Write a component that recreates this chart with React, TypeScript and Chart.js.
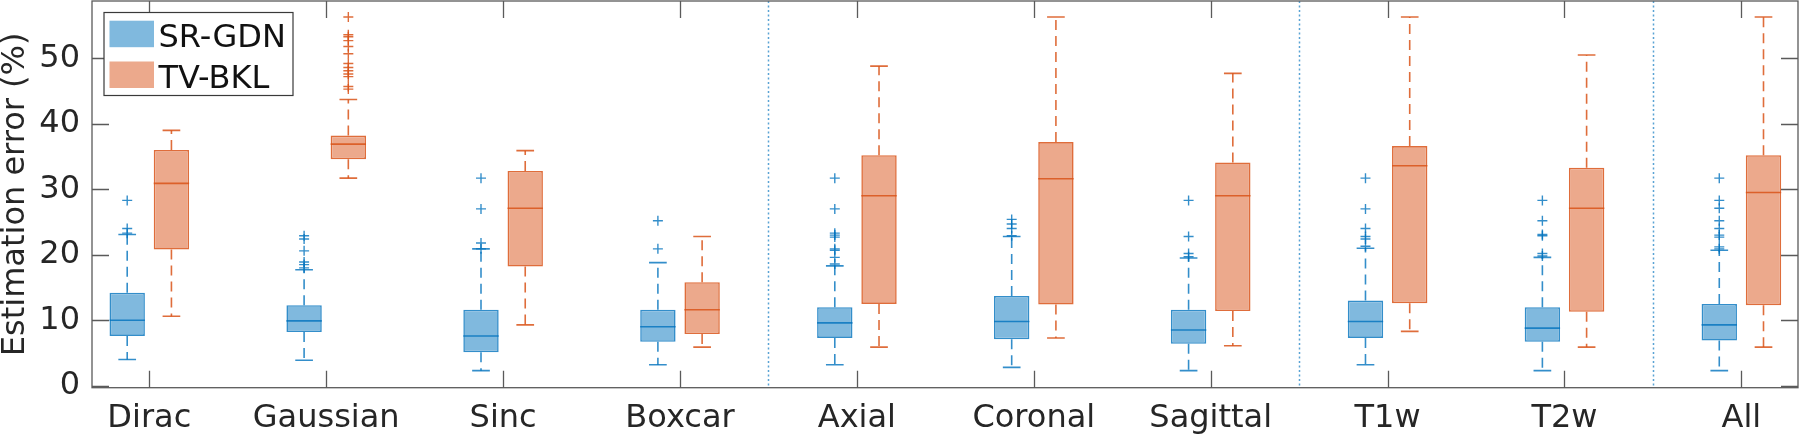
import React, { useEffect, useRef } from "react";
import { Chart, registerables } from "chart.js";

Chart.register(...registerables);

const categories = ["Dirac", "Gaussian", "Sinc", "Boxcar", "Axial", "Coronal", "Sagittal", "T1w", "T2w", "All"];
const seriesNames = ["SR-GDN", "TV-BKL"];
const yTicks = [0, 10, 20, 30, 40, 50];
const groupSeparators = [4.5, 7.5, 9.5];
const yTitle = "Estimation error (%)";

// SR-GDN
const srQ1 = [7.6, 8.2, 5.1, 6.7, 7.3, 7.1, 6.4, 7.3, 6.7, 6.9];
const srMedian = [10.0, 9.9, 7.6, 9.0, 9.6, 9.8, 8.5, 9.8, 8.8, 9.3];
const srQ3 = [14.2, 12.3, 11.6, 11.6, 12.0, 13.7, 11.6, 13.0, 12.0, 12.5];
const srLow = [4.0, 3.9, 2.3, 3.2, 3.2, 2.8, 2.3, 3.2, 2.3, 2.3];
const srHigh = [23.1, 17.7, 20.9, 18.8, 18.3, 22.8, 19.5, 21.0, 19.6, 20.7];
const srOutliers = [
  [23.3, 24.0, 28.3],
  [18.0, 18.5, 18.9, 20.6, 22.4, 22.9],
  [20.9, 21.8, 27.0, 31.7],
  [20.9, 25.2],
  [18.6, 19.6, 20.7, 20.9, 22.7, 23.0, 23.3, 27.0, 31.7],
  [22.9, 24.0, 24.7, 25.4],
  [19.7, 20.2, 22.8, 28.3],
  [21.3, 22.4, 22.8, 24.0, 27.0, 31.7],
  [19.8, 20.2, 22.9, 23.1, 25.2, 28.3],
  [20.9, 21.2, 22.7, 23.0, 24.0, 25.2, 27.1, 28.3, 31.7],
];

// TV-BKL
const tvQ1 = [20.8, 34.6, 18.2, 7.9, 12.5, 12.4, 11.4, 12.6, 11.3, 12.3];
const tvMedian = [30.9, 36.9, 27.1, 11.6, 29.0, 31.6, 29.0, 33.6, 27.1, 29.5];
const tvQ3 = [36.0, 38.2, 32.8, 15.8, 35.2, 37.2, 34.1, 36.6, 33.3, 35.2];
const tvLow = [10.6, 31.7, 9.3, 5.9, 5.9, 7.3, 6.1, 8.3, 5.9, 5.9];
const tvHigh = [39.0, 43.7, 35.9, 22.8, 48.8, 56.3, 47.7, 56.3, 50.5, 56.3];
const tvOutliers = [
  [],
  [45.3, 45.7, 47.2, 47.6, 48.1, 48.6, 49.2, 50.7, 51.8, 52.7, 53.3, 53.6, 56.3],
  [],
  [],
  [],
  [],
  [],
  [],
  [],
  [],
];

const FONT = '"DejaVu Sans", sans-serif';
const TEXT = "#262626";
const AXIS = "#5a5a5a";
const BLUE_FILL = "rgb(128,185,222)";
const BLUE_EDGE = "rgba(0,114,189,0.8)";
const ORANGE_FILL = "rgb(236,169,140)";
const ORANGE_EDGE = "rgba(217,83,25,0.85)";

const stats = [
  { q1: srQ1, med: srMedian, q3: srQ3, lo: srLow, hi: srHigh, out: srOutliers, edge: BLUE_EDGE, fill: BLUE_FILL },
  { q1: tvQ1, med: tvMedian, q3: tvQ3, lo: tvLow, hi: tvHigh, out: tvOutliers, edge: ORANGE_EDGE, fill: ORANGE_FILL },
];

const zeroPad = (s: any) => {
  s.paddingLeft = 0;
  s.paddingRight = 0;
  s.paddingTop = 0;
  s.paddingBottom = 0;
};

const boxPlugin = {
  id: "boxDetails",
  beforeDatasetsDraw(chart: any) {
    const { ctx, chartArea, scales } = chart;
    ctx.save();
    ctx.strokeStyle = "rgba(0,114,189,0.65)";
    ctx.lineWidth = 1.5;
    ctx.setLineDash([2, 2.5]);
    groupSeparators.forEach((v) => {
      const x = Math.round(scales.x.getPixelForValue(v)) + 0.5;
      ctx.beginPath();
      ctx.moveTo(x, chartArea.top);
      ctx.lineTo(x, chartArea.bottom);
      ctx.stroke();
    });
    ctx.restore();
  },
  afterDatasetsDraw(chart: any) {
    const { ctx, scales } = chart;
    const y = scales.y;
    ctx.save();
    stats.forEach((s, di) => {
      const meta = chart.getDatasetMeta(di);
      meta.data.forEach((bar: any, i: number) => {
        const x = bar.x;
        const w = bar.width;
        ctx.strokeStyle = s.edge;
        ctx.lineWidth = 1.6;
        ctx.setLineDash([]);
        ctx.beginPath();
        ctx.moveTo(x - w / 2, y.getPixelForValue(s.med[i]));
        ctx.lineTo(x + w / 2, y.getPixelForValue(s.med[i]));
        ctx.stroke();
        ctx.setLineDash([10, 6]);
        ctx.beginPath();
        ctx.moveTo(x, y.getPixelForValue(s.q3[i]));
        ctx.lineTo(x, y.getPixelForValue(s.hi[i]));
        ctx.moveTo(x, y.getPixelForValue(s.q1[i]));
        ctx.lineTo(x, y.getPixelForValue(s.lo[i]));
        ctx.stroke();
        ctx.setLineDash([]);
        ctx.beginPath();
        ctx.moveTo(x - w / 4, y.getPixelForValue(s.hi[i]));
        ctx.lineTo(x + w / 4, y.getPixelForValue(s.hi[i]));
        ctx.moveTo(x - w / 4, y.getPixelForValue(s.lo[i]));
        ctx.lineTo(x + w / 4, y.getPixelForValue(s.lo[i]));
        ctx.stroke();
        ctx.lineWidth = 1.4;
        s.out[i].forEach((v: number) => {
          const py = y.getPixelForValue(v);
          ctx.beginPath();
          ctx.moveTo(x - 5, py);
          ctx.lineTo(x + 5, py);
          ctx.moveTo(x, py - 5);
          ctx.lineTo(x, py + 5);
          ctx.stroke();
        });
      });
    });
    ctx.restore();
  },
  afterDraw(chart: any) {
    const { ctx, chartArea, scales } = chart;
    const { left, right, top, bottom } = chartArea;
    ctx.save();
    ctx.strokeStyle = AXIS;
    ctx.lineWidth = 1.3;
    ctx.setLineDash([]);
    ctx.strokeRect(left, top, right - left, bottom - top);
    const TL = 17;
    ctx.beginPath();
    scales.x.ticks.forEach((t: any) => {
      const x = Math.round(scales.x.getPixelForValue(t.value)) + 0.5;
      ctx.moveTo(x, bottom);
      ctx.lineTo(x, bottom - TL);
      ctx.moveTo(x, top);
      ctx.lineTo(x, top + TL);
    });
    scales.y.ticks.forEach((t: any) => {
      const yy = Math.round(scales.y.getPixelForValue(t.value)) + 0.5;
      ctx.moveTo(left, yy);
      ctx.lineTo(left + TL, yy);
      ctx.moveTo(right, yy);
      ctx.lineTo(right - TL, yy);
    });
    ctx.stroke();

    const lx = 104, ly = 12.5, lw = 189, lh = 83;
    ctx.fillStyle = "#ffffff";
    ctx.fillRect(lx, ly, lw, lh);
    ctx.strokeStyle = "#3a3a3a";
    ctx.lineWidth = 1.2;
    ctx.strokeRect(lx, ly, lw, lh);
    ctx.font = `32px ${FONT}`;
    ctx.textBaseline = "alphabetic";
    ctx.textAlign = "left";
    const rows = [20.7, 61.5];
    seriesNames.forEach((name, k) => {
      ctx.fillStyle = stats[k].fill;
      ctx.fillRect(109.5, rows[k], 44.5, 26.5);
      ctx.fillStyle = "#111111";
      ctx.fillText(name, 158.5, rows[k] + 26);
    });
    ctx.restore();
  },
};

export default function App() {
  const ref = useRef<HTMLCanvasElement | null>(null);
  useEffect(() => {
    if (!ref.current) return;
    const datasets = stats.map((s, di) => ({
      label: seriesNames[di],
      data: categories.map((_, i) => ({ x: i + 1, y: [s.q1[i], s.q3[i]] })),
      backgroundColor: s.fill,
      borderColor: s.edge,
      borderWidth: 1.6,
      borderSkipped: false as any,
      categoryPercentage: 0.5,
      barPercentage: 0.8,
    }));
    const chart = new Chart(ref.current, {
      type: "bar",
      data: { datasets: datasets as any },
      options: {
        animation: false,
        responsive: false,
        events: [],
        layout: { padding: { top: 1, right: 2, left: 0, bottom: 0 } },
        plugins: { legend: { display: false }, tooltip: { enabled: false } },
        scales: {
          x: {
            type: "linear",
            offset: false,
            min: 0.676,
            max: 10.32,
            grid: { display: false, drawTicks: false, offset: false },
            border: { display: false },
            afterBuildTicks: (s: any) => {
              s.ticks = categories.map((_, i) => ({ value: i + 1 }));
            },
            afterFit: (s: any) => {
              s.height = 49.3;
              zeroPad(s);
            },
            ticks: {
              autoSkip: false,
              maxRotation: 0,
              minRotation: 0,
              padding: 12,
              color: TEXT,
              font: { family: FONT, size: 32 },
              callback: (v: any) => categories[Math.round(Number(v)) - 1] ?? "",
            },
          },
          y: {
            type: "linear",
            min: -0.3,
            max: 58.75,
            grid: { display: false, drawTicks: false },
            border: { display: false },
            afterBuildTicks: (s: any) => {
              s.ticks = yTicks.map((v) => ({ value: v }));
            },
            afterFit: (s: any) => {
              s.width = 92;
              zeroPad(s);
            },
            ticks: {
              padding: 12,
              color: TEXT,
              font: { family: FONT, size: 32 },
            },
            title: {
              display: true,
              text: yTitle,
              color: TEXT,
              font: { family: FONT, size: 32, lineHeight: 1 },
              padding: 0,
            },
          },
        },
      } as any,
      plugins: [boxPlugin],
    });
    return () => chart.destroy();
  }, []);
  return (
    <div style={{ position: "fixed", left: 0, top: 0, width: 1800, height: 437, background: "#fff" }}>
      <canvas ref={ref} width={1800} height={437} style={{ width: 1800, height: 437, display: "block" }} />
    </div>
  );
}
